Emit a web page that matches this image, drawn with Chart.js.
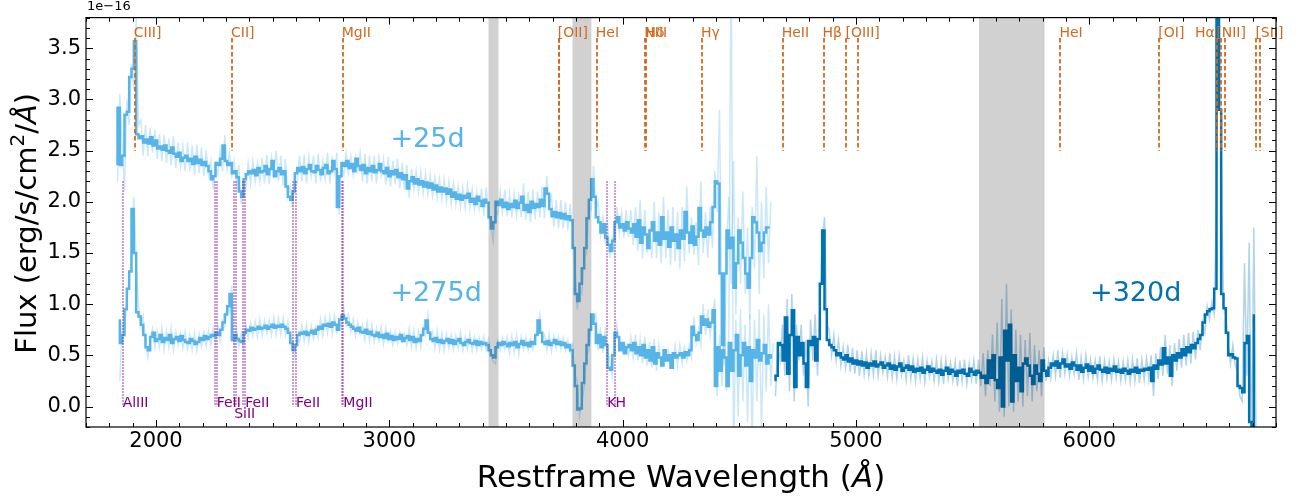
<!DOCTYPE html>
<html>
<head>
<meta charset="utf-8">
<script src="https://cdn.jsdelivr.net/npm/chart.js@4.4.0/dist/chart.umd.min.js"></script>
<style>
  html, body { margin: 0; padding: 0; background: #fff; }
  #wrap { width: 1304px; height: 498px; }
</style>
</head>
<body>
<div id="wrap"><canvas id="spec" width="1304" height="498"></canvas></div>
<script>
// Spectra, flux in units of 1e-16 erg/s/cm2/A, 10 A grid
const binStep = 10;

// +25d binned, from 1830 A
const wlStart25 = 1830;
const flux25 = [
  2.37, 2.92, 2.36, 2.45, 2.85, 2.88, 3.22, 3.30, 3.57, 2.66,
  2.62, 2.64, 2.58, 2.61, 2.57, 2.63, 2.55, 2.60, 2.52, 2.54,
  2.51, 2.55, 2.50, 2.48, 2.53, 2.47, 2.44, 2.48, 2.40, 2.43,
  2.45, 2.40, 2.42, 2.37, 2.44, 2.38, 2.41, 2.36, 2.39, 2.35,
  2.30, 2.22, 2.25, 2.38, 2.36, 2.42, 2.55, 2.40, 2.36, 2.38,
  2.28, 2.30, 2.24, 2.10, 2.05, 2.22, 2.27, 2.30, 2.28, 2.31,
  2.26, 2.33, 2.29, 2.30, 2.35, 2.27, 2.32, 2.40, 2.25, 2.30,
  2.33, 2.27, 2.30, 2.15, 2.05, 2.02, 2.10, 2.28, 2.33, 2.30,
  2.34, 2.28, 2.32, 2.36, 2.30, 2.29, 2.35, 2.31, 2.27, 2.33,
  2.36, 2.28, 2.30, 2.40, 2.32, 1.95, 2.25, 2.38, 2.35, 2.40,
  2.33, 2.37, 2.30, 2.42, 2.35, 2.31, 2.36, 2.28, 2.33, 2.30,
  2.35, 2.29, 2.31, 2.37, 2.30, 2.28, 2.33, 2.25, 2.30, 2.27,
  2.31, 2.24, 2.28, 2.22, 2.26, 2.13, 2.20, 2.24, 2.18, 2.22,
  2.17, 2.20, 2.15, 2.19, 2.14, 2.18, 2.12, 2.16, 2.10, 2.14,
  2.10, 2.13, 2.08, 2.12, 2.05, 2.09, 2.03, 2.07, 2.02, 2.06,
  2.04, 2.08, 2.00, 2.03, 1.98, 2.05, 2.01, 1.96, 2.02, 1.99,
  1.85, 1.74, 1.80, 2.00, 1.97, 2.02, 1.95, 1.99, 1.93, 1.98,
  1.95, 2.01, 1.94, 1.99, 2.05, 1.92, 1.97, 1.90, 2.00, 1.94,
  1.98, 1.95, 2.02, 1.96, 2.13, 2.08, 1.93, 1.86, 1.90, 1.85,
  1.89, 1.84, 1.88, 1.83, 1.86, 1.82, 1.55, 1.10, 1.03, 1.20,
  1.35, 1.55, 1.84, 2.02, 2.22, 2.05, 1.85, 1.80, 1.70, 1.78,
  1.65, 1.58, 1.52, 1.62, 1.80, 1.85, 1.75, 1.78, 1.72, 1.80,
  1.74, 1.70, 1.78, 1.66, 1.82, 1.60, 1.75, 1.68, 1.55, 1.72,
  1.80, 1.62, 1.70, 1.58, 1.85, 1.64, 1.70, 1.56, 1.75, 1.62,
  1.68, 1.55, 1.72, 1.64, 1.90, 1.70, 1.60, 1.76, 1.58, 1.66,
  1.94, 1.72, 1.66, 1.75, 1.68, 1.80, 1.95, 2.20, 2.18, 1.30,
  0.60, 1.30, 1.72, 1.55, 1.65, 1.16, 1.40, 1.72, 1.60, 1.45,
  1.30, 1.16, 1.45, 1.85, 1.80, 1.70, 1.52, 1.60, 1.70, 1.75,
  1.75
];

// +25d unbinned, from 1835 A
const rawStart25 = 1835;
const raw25 = [
  2.20, 3.05, 2.55, 2.10, 3.00, 2.75, 3.35, 3.10, 3.80, 2.75,
  2.80, 2.45, 2.75, 2.45, 2.72, 2.48, 2.70, 2.42, 2.66, 2.40,
  2.65, 2.38, 2.62, 2.36, 2.64, 2.33, 2.58, 2.35, 2.55, 2.30,
  2.58, 2.30, 2.55, 2.26, 2.56, 2.28, 2.53, 2.25, 2.50, 2.26,
  2.40, 2.12, 2.36, 2.26, 2.50, 2.30, 2.65, 2.32, 2.48, 2.26,
  2.40, 2.18, 2.36, 1.98, 2.15, 2.12, 2.38, 2.18, 2.40, 2.20,
  2.38, 2.20, 2.43, 2.18, 2.46, 2.17, 2.44, 2.28, 2.50, 2.20,
  2.45, 2.16, 2.42, 2.05, 2.15, 1.94, 2.20, 2.18, 2.45, 2.20,
  2.46, 2.18, 2.44, 2.25, 2.45, 2.18, 2.47, 2.20, 2.40, 2.22,
  2.48, 2.18, 2.42, 2.28, 2.48, 1.88, 2.35, 2.26, 2.48, 2.28,
  2.45, 2.26, 2.44, 2.30, 2.48, 2.20, 2.47, 2.18, 2.45, 2.20,
  2.45, 2.18, 2.43, 2.26, 2.42, 2.17, 2.44, 2.15, 2.40, 2.17,
  2.42, 2.13, 2.38, 2.12, 2.36, 2.04, 2.32, 2.12, 2.30, 2.10,
  2.30, 2.08, 2.28, 2.07, 2.26, 2.06, 2.24, 2.04, 2.22, 2.02,
  2.22, 2.00, 2.20, 1.98, 2.18, 1.97, 2.15, 1.95, 2.14, 1.94,
  2.16, 1.94, 2.12, 1.92, 2.10, 1.93, 2.13, 1.86, 2.14, 1.88,
  1.78, 1.62, 1.92, 1.88, 2.10, 1.90, 2.12, 1.86, 2.08, 1.85,
  2.08, 1.86, 2.06, 1.85, 2.18, 1.82, 2.10, 1.80, 2.12, 1.83,
  2.10, 1.85, 2.15, 1.84, 2.25, 1.95, 2.05, 1.76, 2.02, 1.74,
  2.02, 1.74, 2.00, 1.72, 1.98, 1.70, 1.40, 0.95, 1.12, 1.10,
  1.45, 1.50, 1.95, 1.92, 2.35, 1.92, 2.00, 1.68, 1.85, 1.62,
  1.80, 1.45, 1.65, 1.50, 1.95, 1.70, 1.90, 1.65, 1.92, 1.66,
  1.92, 1.58, 1.95, 1.52, 2.02, 1.45, 1.92, 1.50, 1.75, 1.45,
  2.00, 1.45, 1.90, 1.40, 2.05, 1.45, 1.92, 1.38, 1.95, 1.42,
  1.90, 1.35, 1.95, 1.42, 2.15, 1.50, 1.85, 1.48, 1.80, 1.38,
  2.20, 1.50, 1.90, 1.45, 1.95, 1.55, 2.30, 1.90, 2.90, 1.00,
  0.40, 1.55, 2.05, 1.20, 2.40, 0.90, 1.85, 1.20, 2.10, 1.10,
  1.75, 0.85, 1.95, 1.35, 2.45, 1.10, 2.00, 1.25, 2.15, 1.40,
  2.00
];

// +275d binned, from 1840 A
const wlStart275 = 1840;
const flux275 = [
  0.84, 0.62, 0.70, 0.95, 1.15, 1.32, 1.93, 1.50, 0.92, 0.88,
  0.80, 0.70, 0.58, 0.55, 0.68, 0.72, 0.64, 0.66, 0.70, 0.63,
  0.67, 0.65, 0.70, 0.62, 0.66, 0.68, 0.64, 0.69, 0.65, 0.63,
  0.62, 0.66, 0.64, 0.61, 0.63, 0.67, 0.65, 0.69, 0.66, 0.68,
  0.70, 0.69, 0.72, 0.70, 0.75, 0.82, 0.90, 0.98, 1.10, 0.65,
  0.70, 0.66, 0.64, 0.63, 0.72, 0.75, 0.74, 0.77, 0.75, 0.76,
  0.78, 0.76, 0.77, 0.79, 0.76, 0.78, 0.80, 0.77, 0.79, 0.78,
  0.80, 0.78, 0.76, 0.72, 0.62, 0.55, 0.60, 0.70, 0.72, 0.71,
  0.73, 0.70, 0.72, 0.74, 0.71, 0.75, 0.78, 0.76, 0.80, 0.79,
  0.81, 0.78, 0.82, 0.80, 0.75, 0.85, 0.89, 0.86, 0.82, 0.80,
  0.78, 0.76, 0.74, 0.77, 0.73, 0.72, 0.75, 0.71, 0.73, 0.70,
  0.69, 0.72, 0.68, 0.70, 0.67, 0.71, 0.66, 0.69, 0.65, 0.68,
  0.66, 0.70, 0.64, 0.67, 0.69, 0.65, 0.68, 0.63, 0.66, 0.64,
  0.70, 0.76, 0.84, 0.72, 0.66, 0.64, 0.67, 0.63, 0.65, 0.62,
  0.64, 0.66, 0.62, 0.65, 0.61, 0.64, 0.66, 0.62, 0.60, 0.63,
  0.65, 0.62, 0.61, 0.64, 0.60, 0.63, 0.61, 0.62, 0.60, 0.55,
  0.50, 0.48, 0.58, 0.62, 0.60, 0.63, 0.61, 0.59, 0.62, 0.60,
  0.63, 0.58, 0.61, 0.64, 0.60, 0.62, 0.59, 0.63, 0.61, 0.70,
  0.84, 0.72, 0.63, 0.61, 0.64, 0.60, 0.62, 0.65, 0.61, 0.63,
  0.60, 0.62, 0.58, 0.60, 0.55, 0.40, 0.20, -0.03, -0.02, 0.23,
  0.42, 0.60, 0.75, 0.90, 0.81, 0.62, 0.70, 0.58, 0.68, 0.60,
  0.38, 0.36, 0.50, 0.72, 0.68, 0.55, 0.62, 0.52, 0.58, 0.60,
  0.55, 0.62, 0.52, 0.58, 0.50, 0.60, 0.48, 0.55, 0.45, 0.58,
  0.42, 0.52, 0.48, 0.40, 0.55, 0.45, 0.50, 0.38, 0.52, 0.48,
  0.50, 0.52, 0.48, 0.53, 0.50, 0.55, 0.78, 0.70, 0.65, 0.72,
  0.88, 0.80, 0.85, 0.78, 0.82, 0.94, 0.20, 0.58, 0.35, 0.55,
  0.48, 0.20, 0.62, 0.35, 0.55, 0.70, 0.30, 0.50, 0.62, 0.40,
  0.58, 0.25, 0.55, 0.48, 0.65, 0.45, 0.52, 0.60, 0.42, 0.50,
  0.48
];

// +275d unbinned, from 1845 A
const rawStart275 = 1845;
const raw275 = [
  0.25, 0.80, 0.75, 1.05, 1.25, 1.45, 2.05, 1.40, 1.00, 0.78,
  0.88, 0.60, 0.48, 0.65, 0.76, 0.58, 0.74, 0.58, 0.77, 0.56,
  0.74, 0.58, 0.77, 0.55, 0.73, 0.60, 0.72, 0.57, 0.73, 0.56,
  0.70, 0.55, 0.72, 0.54, 0.71, 0.58, 0.73, 0.59, 0.74, 0.60,
  0.77, 0.62, 0.79, 0.64, 0.84, 0.78, 0.98, 0.92, 1.18, 0.58,
  0.77, 0.58, 0.72, 0.55, 0.80, 0.67, 0.82, 0.69, 0.83, 0.68,
  0.85, 0.69, 0.84, 0.71, 0.84, 0.70, 0.87, 0.70, 0.86, 0.71,
  0.87, 0.70, 0.83, 0.64, 0.68, 0.48, 0.67, 0.63, 0.80, 0.64,
  0.80, 0.63, 0.79, 0.66, 0.78, 0.68, 0.85, 0.69, 0.87, 0.72,
  0.88, 0.71, 0.89, 0.73, 0.82, 0.78, 0.96, 0.80, 0.90, 0.73,
  0.85, 0.69, 0.82, 0.70, 0.80, 0.65, 0.82, 0.64, 0.80, 0.63,
  0.76, 0.64, 0.78, 0.61, 0.77, 0.64, 0.74, 0.60, 0.73, 0.61,
  0.73, 0.63, 0.71, 0.60, 0.76, 0.58, 0.75, 0.57, 0.73, 0.58,
  0.78, 0.70, 0.90, 0.66, 0.73, 0.57, 0.74, 0.56, 0.72, 0.55,
  0.71, 0.57, 0.70, 0.56, 0.69, 0.57, 0.73, 0.55, 0.68, 0.56,
  0.72, 0.55, 0.68, 0.55, 0.67, 0.56, 0.68, 0.55, 0.66, 0.50,
  0.44, 0.42, 0.64, 0.55, 0.67, 0.56, 0.68, 0.52, 0.69, 0.53,
  0.70, 0.51, 0.68, 0.56, 0.67, 0.55, 0.66, 0.56, 0.68, 0.76,
  0.90, 0.66, 0.70, 0.55, 0.71, 0.54, 0.69, 0.57, 0.68, 0.56,
  0.67, 0.55, 0.65, 0.53, 0.60, 0.32, 0.25, -0.10, 0.05, 0.18,
  0.50, 0.55, 0.82, 0.84, 0.90, 0.55, 0.78, 0.52, 0.75, 0.53,
  0.45, 0.30, 0.58, 0.80, 0.62, 0.62, 0.55, 0.60, 0.50, 0.68,
  0.48, 0.70, 0.45, 0.66, 0.42, 0.68, 0.40, 0.63, 0.38, 0.66,
  0.35, 0.60, 0.40, 0.48, 0.48, 0.55, 0.42, 0.45, 0.60, 0.40,
  0.60, 0.42, 0.58, 0.45, 0.60, 0.48, 0.88, 0.62, 0.75, 0.60,
  1.00, 0.70, 0.95, 0.70, 0.90, 1.05, 0.10, 0.70, 0.20, 0.80,
  0.15, 0.72, 4.60, -0.60, 0.85, -0.10, 0.95, 0.05, 0.80, -0.15,
  0.90, -0.30, 0.85, 0.05, 0.95, -0.25, 0.90, 0.15, 1.00, 0.20,
  0.62
];

// +320d binned, from 4650 A
const wlStart320 = 4650;
const flux320 = [
  0.26, 0.30, 0.62, 0.60, 0.45, 0.87, 0.32, 0.70, 0.94, 0.19,
  0.68, 0.50, 0.62, 0.42, 0.19, 0.64, 0.60, 0.68, 0.45, 0.66,
  1.20, 1.72, 0.95, 0.65, 0.60, 0.58, 0.55, 0.50, 0.52, 0.48,
  0.46, 0.50, 0.44, 0.47, 0.42, 0.45, 0.41, 0.44, 0.40, 0.43,
  0.38, 0.42, 0.40, 0.44, 0.39, 0.41, 0.43, 0.38, 0.40, 0.42,
  0.37, 0.40, 0.36, 0.39, 0.42, 0.35, 0.38, 0.40, 0.36, 0.39,
  0.34, 0.37, 0.35, 0.38, 0.33, 0.36, 0.39, 0.34, 0.37, 0.35,
  0.33, 0.36, 0.31, 0.35, 0.38, 0.32, 0.36, 0.34, 0.30, 0.35,
  0.33, 0.36, 0.32, 0.30, 0.37, 0.34, 0.31, 0.35, 0.33, 0.28,
  0.30, 0.23, 0.45, 0.28, 0.50, 0.26, 0.18, 0.48, 0.00, 0.74,
  0.45, 0.80, 0.05, 0.50, 0.25, 0.38, 0.15, 0.42, 0.47, 0.40,
  0.30, 0.22, 0.40, 0.32, 0.25, 0.45, 0.35, 0.30, 0.38, 0.42,
  0.40, 0.44, 0.38, 0.42, 0.46, 0.39, 0.41, 0.37, 0.43, 0.40,
  0.36, 0.40, 0.34, 0.38, 0.41, 0.35, 0.39, 0.33, 0.37, 0.40,
  0.36, 0.34, 0.38, 0.33, 0.37, 0.35, 0.39, 0.34, 0.36, 0.33,
  0.37, 0.35, 0.32, 0.36, 0.34, 0.38, 0.33, 0.36, 0.35, 0.37,
  0.36, 0.38, 0.25, 0.40, 0.37, 0.45, 0.41, 0.57, 0.42, 0.48,
  0.30, 0.50, 0.45, 0.52, 0.48, 0.56, 0.50, 0.58, 0.53, 0.60,
  0.57, 0.62, 0.66, 0.70, 0.82, 0.90, 0.93, 0.95, 0.96, 1.15,
  6.00, 2.90, 1.10, 0.96, 0.72, 0.50, 0.51, 0.48, 0.47, 0.20,
  0.18, 0.14, 0.62, 0.69, -0.15, -0.40, 0.89
];

// +320d unbinned, from 4655 A
const rawStart320 = 4655;
const raw320 = [
  0.10, 0.60, 0.45, 0.80, 0.30, 1.05, 0.15, 1.10, 0.05, 0.80,
  0.45, 0.80, 0.30, 0.65, 0.00, 0.85, 0.45, 0.90, 0.30, 0.95,
  1.60, 1.85, 0.80, 0.75, 0.50, 0.70, 0.45, 0.65, 0.40, 0.58,
  0.38, 0.60, 0.34, 0.57, 0.32, 0.55, 0.30, 0.54, 0.31, 0.52,
  0.30, 0.52, 0.31, 0.55, 0.30, 0.50, 0.33, 0.48, 0.29, 0.52,
  0.28, 0.49, 0.27, 0.50, 0.31, 0.45, 0.26, 0.50, 0.27, 0.47,
  0.25, 0.46, 0.27, 0.48, 0.24, 0.45, 0.29, 0.44, 0.25, 0.46,
  0.24, 0.45, 0.22, 0.46, 0.27, 0.43, 0.25, 0.44, 0.20, 0.45,
  0.24, 0.46, 0.22, 0.42, 0.26, 0.45, 0.22, 0.46, 0.20, 0.52,
  0.10, 0.55, 0.20, 0.70, 0.05, 0.82, -0.05, 1.05, -0.10, 1.20,
  0.00, 0.95, -0.05, 0.75, 0.05, 0.70, 0.00, 0.65, 0.10, 0.72,
  0.05, 0.60, 0.15, 0.55, 0.10, 0.58, 0.25, 0.45, 0.28, 0.50,
  0.30, 0.55, 0.28, 0.52, 0.32, 0.50, 0.30, 0.48, 0.32, 0.52,
  0.26, 0.48, 0.27, 0.50, 0.29, 0.46, 0.28, 0.45, 0.26, 0.49,
  0.25, 0.45, 0.27, 0.44, 0.26, 0.46, 0.28, 0.44, 0.25, 0.44,
  0.26, 0.45, 0.24, 0.46, 0.25, 0.47, 0.23, 0.46, 0.26, 0.47,
  0.26, 0.50, 0.10, 0.52, 0.27, 0.58, 0.30, 0.70, 0.32, 0.60,
  0.20, 0.62, 0.35, 0.66, 0.38, 0.70, 0.40, 0.72, 0.42, 0.73,
  0.46, 0.75, 0.55, 0.82, 0.72, 0.98, 0.85, 1.02, 0.90, 2.00,
  5.00, 2.40, 1.00, 0.88, 0.62, 0.42, 0.60, 0.40, 0.35, 0.10,
  0.05, 1.40, 0.30, 1.60, -0.50, 1.75, -0.40
];

// line identifications (A)
const emisWave = [1909, 2326, 2800, 3726, 3729, 3889, 4097, 4102, 4340, 4686,
  4861, 4959, 5007, 5876, 6300, 6548, 6563, 6583, 6716, 6731];
const emisLabel = ["CIII]", "CII]", "MgII", "[OII]", "", "HeI", "NIII", "Hδ", "Hγ", "HeII",
  "Hβ", "[OIII]", "", "HeI", "[OI]", "[NII]", "Hα", "", "[SII]", ""];
const absWave = [1857, 2251, 2260, 2335, 2342, 2374, 2382, 2587, 2600, 2796, 2803, 3934, 3969];
const absLabel = ["AlIII", "", "FeII", "SiII", "", "", "FeII", "", "FeII", "", "MgII", "K", "H"];

// masked telluric / chip-gap regions (A)
const maskStart = [3425, 3785, 5527];
const maskEnd = [3468, 3866, 5808];

// epoch labels
const epochText = ["+25d", "+275d", "+320d"];
const epochWave = [3005, 3005, 6003];
const epochFlux = [2.6, 1.1, 1.1];

const xTickValues = [2000, 3000, 4000, 5000, 6000];
const yTickValues = [0, 0.5, 1.0, 1.5, 2.0, 2.5, 3.0, 3.5];

const FONT = "DejaVu Sans";
const SKY = "#56B4E9";
const BLUE = "#0072B2";
const ORANGE = "#D2691E";
const PURPLE = "#800080";

function toPoints(start, values) {
  return values.map((v, i) => ({ x: start + i * binStep, y: v }));
}

function drawRich(ctx, parts, cx, cy, rot) {
  ctx.save();
  ctx.translate(cx, cy);
  ctx.rotate(rot);
  let total = 0;
  parts.forEach((p) => {
    ctx.font = p.font;
    p.w = ctx.measureText(p.text).width;
    total += p.w;
  });
  let x = -total / 2;
  ctx.textAlign = "left";
  ctx.textBaseline = "middle";
  ctx.fillStyle = "#000";
  parts.forEach((p) => {
    ctx.font = p.font;
    ctx.fillText(p.text, x, p.dy || 0);
    x += p.w;
  });
  ctx.restore();
}

const decorPlugin = {
  id: "decor",
  afterDatasetsDraw(chart) {
    const { ctx, chartArea: a, scales } = chart;
    const xs = scales.x, ys = scales.y;
    ctx.save();
    ctx.beginPath();
    ctx.rect(a.left, a.top, a.right - a.left, a.bottom - a.top);
    ctx.clip();

    // masked bands
    ctx.fillStyle = "rgba(0,0,0,0.18)";
    maskStart.forEach((s, i) => {
      const x0 = xs.getPixelForValue(s), x1 = xs.getPixelForValue(maskEnd[i]);
      ctx.fillRect(x0, a.top, x1 - x0, a.bottom - a.top);
    });

    // emission lines
    ctx.strokeStyle = ORANGE;
    ctx.lineWidth = 1.8;
    ctx.setLineDash([4.5, 2.5]);
    const eTop = ys.getPixelForValue(3.6), eBot = ys.getPixelForValue(2.5);
    emisWave.forEach((w) => {
      const x = Math.round(xs.getPixelForValue(w));
      ctx.beginPath(); ctx.moveTo(x, eTop); ctx.lineTo(x, eBot); ctx.stroke();
    });

    // absorption lines
    ctx.strokeStyle = "rgba(140,20,150,0.8)";
    ctx.lineWidth = 1.4;
    ctx.setLineDash([1.5, 1.5]);
    const aTop = ys.getPixelForValue(2.2), aBot = ys.getPixelForValue(0.0);
    absWave.forEach((w) => {
      const x = Math.round(xs.getPixelForValue(w));
      ctx.beginPath(); ctx.moveTo(x, aTop); ctx.lineTo(x, aBot); ctx.stroke();
    });
    ctx.setLineDash([]);
    ctx.restore();

    // line labels
    ctx.save();
    ctx.font = "14px '" + FONT + "'";
    ctx.textBaseline = "alphabetic";
    ctx.fillStyle = ORANGE;
    emisWave.forEach((w, i) => {
      if (!emisLabel[i]) return;
      const x = xs.getPixelForValue(w);
      if (emisLabel[i] === "Hα") {
        ctx.textAlign = "right";
        ctx.fillText(emisLabel[i], x - 6, eTop - 1);
      } else {
        ctx.textAlign = "left";
        ctx.fillText(emisLabel[i], x - 1, eTop - 1);
      }
    });
    ctx.fillStyle = PURPLE;
    ctx.textAlign = "left";
    absWave.forEach((w, i) => {
      if (!absLabel[i]) return;
      const x = xs.getPixelForValue(w);
      const yb = absLabel[i] === "SiII" ? aBot + 11 : aBot;
      ctx.fillText(absLabel[i], x, yb);
    });

    // epoch labels
    ctx.font = "27px '" + FONT + "'";
    ctx.textBaseline = "middle";
    epochText.forEach((t, i) => {
      ctx.fillStyle = i === 2 ? BLUE : SKY;
      ctx.fillText(t, xs.getPixelForValue(epochWave[i]), ys.getPixelForValue(epochFlux[i]));
    });
    ctx.restore();
  },
  afterDraw(chart) {
    const { ctx, chartArea: a, scales } = chart;
    const xs = scales.x, ys = scales.y;
    ctx.save();
    ctx.strokeStyle = "#000";
    ctx.lineWidth = 1.2;
    ctx.strokeRect(a.left, a.top, a.right - a.left, a.bottom - a.top);

    // inward ticks on all four sides
    ctx.lineWidth = 1;
    ctx.beginPath();
    for (let w = 1700; w <= 6800; w += 100) {
      const x = Math.round(xs.getPixelForValue(w)) + 0.5;
      const len = w % 1000 === 0 ? 7 : 4;
      ctx.moveTo(x, a.bottom); ctx.lineTo(x, a.bottom - len);
      ctx.moveTo(x, a.top); ctx.lineTo(x, a.top + len);
    }
    for (let k = -2; k <= 38; k++) {
      const y = Math.round(ys.getPixelForValue(k / 10)) + 0.5;
      const len = k % 5 === 0 ? 7 : 4;
      ctx.moveTo(a.left, y); ctx.lineTo(a.left + len, y);
      ctx.moveTo(a.right, y); ctx.lineTo(a.right - len, y);
    }
    ctx.stroke();

    // offset text
    ctx.font = "13px '" + FONT + "'";
    ctx.fillStyle = "#000";
    ctx.textAlign = "left";
    ctx.textBaseline = "middle";
    ctx.fillText("1e\u221216", a.left + 1, 7);
    ctx.restore();

    // axis titles
    const f = "31px '" + FONT + "'";
    const fi = "oblique 31px '" + FONT + "'";
    drawRich(ctx, [
      { text: "Restframe Wavelength (", font: f },
      { text: "Å", font: fi },
      { text: ")", font: f }
    ], (a.left + a.right) / 2, 479, 0);
    const g = "29px '" + FONT + "'";
    const gi = "oblique 29px '" + FONT + "'";
    drawRich(ctx, [
      { text: "Flux (erg/s/cm", font: g },
      { text: "2", font: "20px '" + FONT + "'", dy: -9 },
      { text: "/", font: g },
      { text: "Å", font: gi },
      { text: ")", font: g }
    ], 28, (a.top + a.bottom) / 2 + 1, -Math.PI / 2);
  }
};

const ctx = document.getElementById("spec");
const chart = new Chart(ctx, {
  type: "line",
  data: {
    datasets: [
      { label: "+25d raw", data: toPoints(rawStart25, raw25), borderColor: "rgba(86,180,233,0.3)", borderWidth: 1.5, order: 3, clip: 0 },
      { label: "+275d raw", data: toPoints(rawStart275, raw275), borderColor: "rgba(86,180,233,0.3)", borderWidth: 1.5, order: 3, clip: 0 },
      { label: "+320d raw", data: toPoints(rawStart320, raw320), borderColor: "rgba(0,114,178,0.3)", borderWidth: 1.5, order: 3, clip: 0 },
      { label: "+25d", data: toPoints(wlStart25, flux25), borderColor: SKY, borderWidth: 2.5, stepped: "middle", order: 1, clip: 0 },
      { label: "+275d", data: toPoints(wlStart275, flux275), borderColor: SKY, borderWidth: 2.5, stepped: "middle", order: 1, clip: 0 },
      { label: "+320d", data: toPoints(wlStart320, flux320), borderColor: BLUE, borderWidth: 2.5, stepped: "middle", order: 1, clip: 0 }
    ]
  },
  options: {
    responsive: false,
    animation: false,
    layout: { padding: { top: 16, right: 28, left: 0, bottom: 0 } },
    elements: { point: { radius: 0 }, line: { tension: 0, fill: false } },
    plugins: { legend: { display: false }, tooltip: { enabled: false } },
    scales: {
      x: {
        type: "linear",
        min: 1700,
        max: 6800,
        grid: { display: false, drawTicks: false },
        border: { display: false },
        afterBuildTicks: (s) => { s.ticks = xTickValues.map((v) => ({ value: v })); },
        afterFit: (s) => { s.height = 71; },
        ticks: {
          font: { family: FONT, size: 21 },
          color: "#000",
          padding: 2,
          maxRotation: 0,
          autoSkip: false,
          callback: (v) => String(v)
        }
      },
      y: {
        type: "linear",
        min: -0.2,
        max: 3.8,
        grid: { display: false, drawTicks: false },
        border: { display: false },
        afterBuildTicks: (s) => { s.ticks = yTickValues.map((v) => ({ value: v })); },
        afterFit: (s) => { s.width = 86; },
        ticks: {
          font: { family: FONT, size: 21 },
          color: "#000",
          padding: 5,
          autoSkip: false,
          callback: (v) => v.toFixed(1)
        }
      }
    }
  },
  plugins: [decorPlugin]
});
</script>
</body>
</html>
